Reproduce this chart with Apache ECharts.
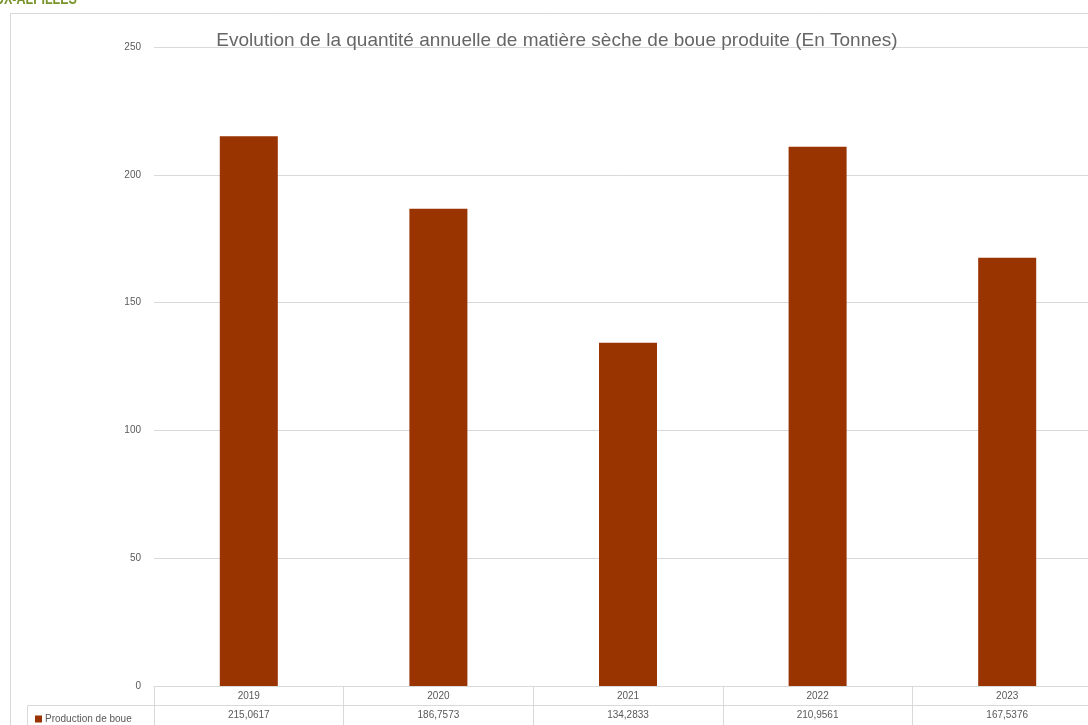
<!DOCTYPE html>
<html><head><meta charset="utf-8">
<script src="https://cdn.jsdelivr.net/npm/echarts@6/dist/echarts.min.js"></script>
<style>html,body{margin:0;padding:0;background:#fff}#c{width:1088px;height:725px}</style>
</head><body><div id="c"></div>
<script>
const categories = ['2019', '2020', '2021', '2022', '2023'];
const production = [215.0617, 186.7573, 134.2833, 210.9561, 167.5376];
const yTicks = [0, 50, 100, 150, 200, 250];
const seriesName = 'Production de boue';
const titleText = 'Evolution de la quantité annuelle de matière sèche de boue produite (En Tonnes)';
const headerText = 'UX-ALPILLES';

const valueLabels = production.map(v => String(v).replace('.', ','));
const grey = '#595959', lineC = '#d9d9d9', barC = '#993300';
const font = 'Liberation Sans';

const chart = echarts.init(document.getElementById('c'));
chart.setOption({
  animation: false,
  textStyle: { fontFamily: font },
  title: { text: titleText, left: 552, textAlign: 'center', top: 26,
    textStyle: { color: '#666666', fontSize: 19, fontWeight: 'normal', fontFamily: font } },
  legend: { data: [{ name: seriesName, icon: 'rect' }], left: 30, top: 709, itemWidth: 7, itemHeight: 7, itemGap: 4,
    textStyle: { color: grey, fontSize: 10, fontFamily: font, padding: [0, 0, 0, -2] } },
  grid: { left: 154, top: 47, width: 948, height: 639, outerBoundsMode: 'none', containLabel: false },
  xAxis: [
    { type: 'category', data: categories, position: 'bottom',
      axisLine: { lineStyle: { color: lineC } },
      axisTick: { show: true, length: 39, lineStyle: { color: lineC } },
      axisLabel: { color: grey, fontSize: 10, margin: 5 } },
    { type: 'category', data: valueLabels, position: 'bottom', offset: 19,
      axisLine: { lineStyle: { color: lineC } },
      axisTick: { show: false },
      axisLabel: { color: grey, fontSize: 10, margin: 5 } }
  ],
  yAxis: { type: 'value', min: yTicks[0], max: yTicks[yTicks.length - 1], interval: yTicks[1] - yTicks[0],
    axisLine: { show: false }, axisTick: { show: false },
    axisLabel: { color: grey, fontSize: 10, margin: 13 },
    splitLine: { lineStyle: { color: lineC } } },
  series: [{ name: seriesName, type: 'bar', data: production, barWidth: 58, xAxisIndex: 0,
    itemStyle: { color: barC } }],
  graphic: [
    { type: 'text', x: -5, y: -8, scaleX: 0.78, style: { text: headerText, fill: '#77932a', font: 'bold 16px "Liberation Sans", sans-serif' } },
    { type: 'polyline', shape: { points: [[10.5, 725], [10.5, 13.5], [1088, 13.5]] }, style: { stroke: lineC, fill: null, lineWidth: 1 } },
    { type: 'polyline', shape: { points: [[27.5, 725], [27.5, 705.5], [154, 705.5]] }, style: { stroke: lineC, fill: null, lineWidth: 1 } }
  ]
});
</script></body></html>
